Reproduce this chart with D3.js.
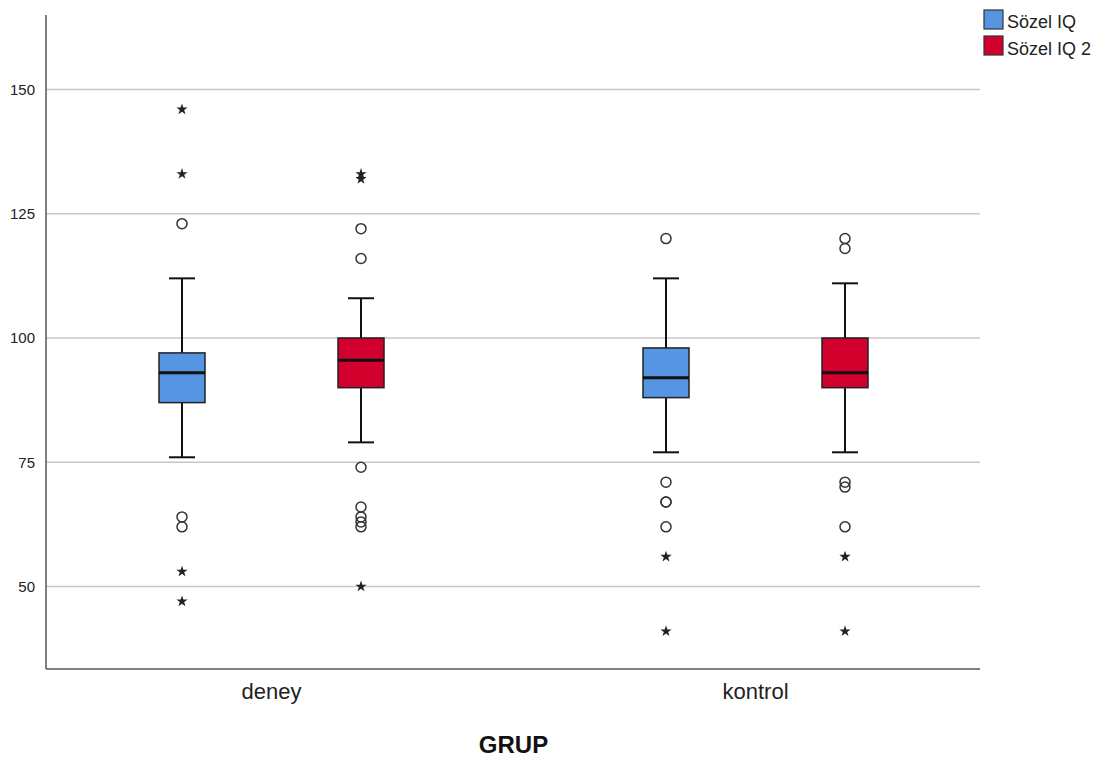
<!DOCTYPE html>
<html><head><meta charset="utf-8">
<script src="https://cdn.jsdelivr.net/npm/d3@7"></script>
<style>body{margin:0;background:#fff;} text{font-family:Arial,"Liberation Sans",sans-serif;}</style>
</head><body><svg id="c" width="1114" height="765"></svg>
<script>
const groups = ["deney","kontrol"];
const seriesNames = ["Sözel IQ","Sözel IQ 2"];
const seriesColors = ["#5595e2","#d1002d"];
const yTicks = [50,75,100,125,150];
// [min whisker, q1, median, q3, max whisker] per group, per series
const sozelIQ  = [[76,87,93,97,112],[77,88,92,98,112]];
const sozelIQ2 = [[79,90,95.5,100,108],[77,90,93,100,111]];
const circlesIQ  = [[123,64,62],[120,71,67,67,62]];
const circlesIQ2 = [[122,116,74,66,64,63,62],[120,118,71,70,62]];
const starsIQ  = [[146,133,53,47],[56,41]];
const starsIQ2 = [[133,132,50],[56,41]];

(function(){
const svg = d3.select("#c");
const pLeft=46, pRight=980, pTop=5, pBottom=669;
const y = d3.scaleLinear().domain([33.4,167]).range([pBottom,pTop]);
const x = d3.scaleBand().domain(groups).range([29.5,997.5]).padding(0);
const sub = d3.scaleBand().domain(seriesNames).range([-179,179]).padding(0);

// grid
svg.append("g").selectAll("line").data(yTicks).join("line")
 .attr("x1",pLeft).attr("x2",pRight).attr("y1",d=>y(d)).attr("y2",d=>y(d))
 .attr("stroke","#c8c8c8").attr("stroke-width",1.5);
// axes
const yAxis = svg.append("g").attr("transform",`translate(${pLeft},0)`)
 .call(d3.axisLeft(y).tickValues(yTicks).tickSize(0).tickPadding(11));
yAxis.select(".domain").remove();
yAxis.selectAll("text").attr("font-size",15).attr("fill","#222");
svg.append("line").attr("x1",pLeft).attr("x2",pLeft).attr("y1",pTop+10).attr("y2",pBottom).attr("stroke","#555").attr("stroke-width",1.5);
svg.append("line").attr("x1",pLeft).attr("x2",pRight).attr("y1",pBottom).attr("y2",pBottom).attr("stroke","#555").attr("stroke-width",1.5);
const xAxis = svg.append("g").attr("transform",`translate(0,${pBottom})`)
 .call(d3.axisBottom(x).tickSize(0).tickPadding(14));
xAxis.select(".domain").remove();
xAxis.selectAll("text").attr("font-size",22).attr("fill","#222");
svg.append("text").attr("x",(x("deney")+x("kontrol"))/2+x.bandwidth()/2).attr("y",753)
 .attr("text-anchor","middle").attr("font-size",24).attr("font-weight","bold").attr("fill","#111").text("GRUP");

const allStats=[sozelIQ,sozelIQ2], allCircles=[circlesIQ,circlesIQ2], allStars=[starsIQ,starsIQ2];
const boxW=46, capW=26;
const star = d3.symbol().type(d3.symbolStar).size(40);
seriesNames.forEach((s,si)=>{
  groups.forEach((g,gi)=>{
    const cx = x(g)+x.bandwidth()/2 + sub(s)+sub.bandwidth()/2;
    const [lo,q1,md,q3,hi] = allStats[si][gi];
    const G = svg.append("g");
    G.append("line").attr("x1",cx).attr("x2",cx).attr("y1",y(hi)).attr("y2",y(q3)).attr("stroke","#111").attr("stroke-width",2);
    G.append("line").attr("x1",cx).attr("x2",cx).attr("y1",y(q1)).attr("y2",y(lo)).attr("stroke","#111").attr("stroke-width",2);
    [hi,lo].forEach(v=>G.append("line").attr("x1",cx-capW/2).attr("x2",cx+capW/2).attr("y1",y(v)).attr("y2",y(v)).attr("stroke","#111").attr("stroke-width",2));
    G.append("rect").attr("x",cx-boxW/2).attr("width",boxW).attr("y",y(q3)).attr("height",y(q1)-y(q3))
      .attr("fill",seriesColors[si]).attr("stroke","#222").attr("stroke-width",1.5);
    G.append("line").attr("x1",cx-boxW/2).attr("x2",cx+boxW/2).attr("y1",y(md)).attr("y2",y(md)).attr("stroke","#111").attr("stroke-width",3);
    G.selectAll("circle").data(allCircles[si][gi]).join("circle").attr("cx",cx).attr("cy",d=>y(d)).attr("r",5)
      .attr("fill","none").attr("stroke","#333").attr("stroke-width",1.5);
    G.selectAll("path.st").data(allStars[si][gi]).join("path").attr("class","st")
      .attr("transform",d=>`translate(${cx},${y(d)})`).attr("d",star).attr("fill","#222");
  });
});
// legend
const lg = svg.append("g");
seriesNames.forEach((s,i)=>{
  lg.append("rect").attr("x",984).attr("y",10+i*26).attr("width",19).attr("height",19)
    .attr("fill",seriesColors[i]).attr("stroke","#333").attr("stroke-width",1.2);
  lg.append("text").attr("x",1007).attr("y",28+i*27).attr("font-size",18).attr("fill","#222").text(s);
});
})();
</script></body></html>
